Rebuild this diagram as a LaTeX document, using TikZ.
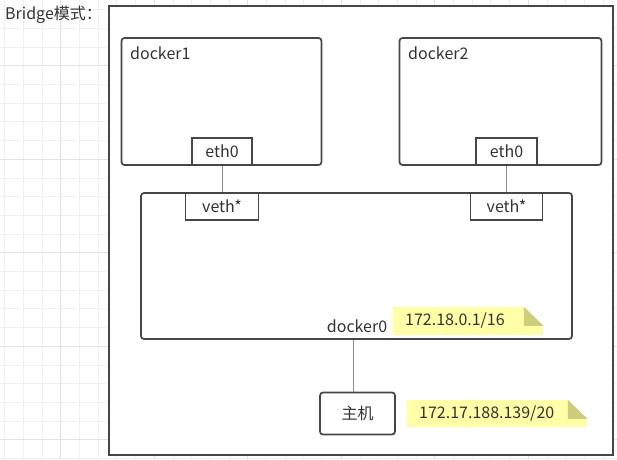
\documentclass[tikz,border=0pt]{standalone}
\usepackage{fontspec}
\setmainfont{Noto Sans CJK SC}
\usetikzlibrary{positioning}
\definecolor{linegray}{HTML}{464646}
\definecolor{textgray}{HTML}{333333}
\definecolor{notefill}{HTML}{FFFFA8}
\definecolor{notefold}{HTML}{CDCD7C}
\definecolor{gridminor}{HTML}{F0F0F0}
\definecolor{gridmajor}{HTML}{E2E2E2}
% folded corner of a sticky note
\newcommand{\notefold}[1]{%
  \fill[white] (#1.north east) -- ++(-19.5,0) -- ++(19.5,19) -- cycle;
  \fill[notefold] ([xshift=-19.5pt]#1.north east) -- ++(0,19) -- ++(19.5,0) -- cycle;}

\begin{document}
\begin{tikzpicture}[
  x=1pt, y=-1pt,
  every node/.style={font=\fontsize{16}{18}\selectfont, text=textgray},
  frame/.style={draw=linegray, line width=1.7pt, fill=white},
  ctr/.style={draw=linegray, line width=1.7pt, rounded corners=3pt, fill=white},
  port/.style={draw=linegray, line width=1.7pt, fill=white, inner sep=0pt},
  note/.style={fill=notefill, anchor=west, align=left, inner xsep=12pt, inner ysep=0pt},
  link/.style={draw=black!45, line width=0.7pt}
]
  \useasboundingbox (0,0) rectangle (617,459);
  % background grid
  \foreach \i in {0,...,33} {
    \draw[gridminor, line width=0.8pt] ({4.6+18.7*\i},0) -- ++(0,459);
    \draw[gridminor, line width=0.8pt] (0,{9.6+18.7*\i}) -- ++(617,0);
  }
  \foreach \i in {3,8,...,33} {
    \draw[gridmajor, line width=0.8pt] ({4.6+18.7*\i},0) -- ++(0,459);
    \draw[gridmajor, line width=0.8pt] (0,{9.6+18.7*\i}) -- ++(617,0);
  }

  \node[anchor=west, inner sep=0pt] (title) at (5,15) {Bridge模式：};
  \node[frame, minimum width=504, minimum height=449] (hostbox) at (361,230.5) {};

  % containers
  \node[ctr, minimum width=200, minimum height=127] (docker1) at (221.5,101.5) {};
  \node[ctr, minimum width=202, minimum height=127] (docker2) at (500.5,101.5) {};
  \node[anchor=west, inner sep=0pt] (d1name) at (130,53) {docker1};
  \node[anchor=west, inner sep=0pt] (d2name) at (408,53) {docker2};
  \node[port, minimum width=60, minimum height=27] (eth1) at (222,151.5) {eth0};
  \node[port, minimum width=61, minimum height=27] (eth2) at (506.5,151.5) {eth0};

  % bridge
  \node[ctr, minimum width=431, minimum height=146] (bridge) at (356.5,266) {};
  \node[port, minimum width=73, minimum height=27] (veth1) at (222,206.5) {veth*};
  \node[port, minimum width=72, minimum height=27] (veth2) at (506.5,206.5) {veth*};
  \node[inner sep=0pt] (d0name) at (357,326) {docker0};
  \node[note, text width=126, minimum height=28] (ip0) at (393,321) {172.18.0.1/16};
  \notefold{ip0}

  % host
  \node[ctr, minimum width=75, minimum height=42] (host) at (357.5,413.5) {主机};
  \node[note, text width=156, minimum height=27] (iphost) at (407,413.5) {172.17.188.139/20};
  \notefold{iphost}

  \draw[link] (eth1) -- (veth1);
  \draw[link] (eth2) -- (veth2);
  \draw[link] ([xshift=-3.8pt]host.north) -- ([xshift=-3.8pt]host.north |- bridge.south);
\end{tikzpicture}
\end{document}
